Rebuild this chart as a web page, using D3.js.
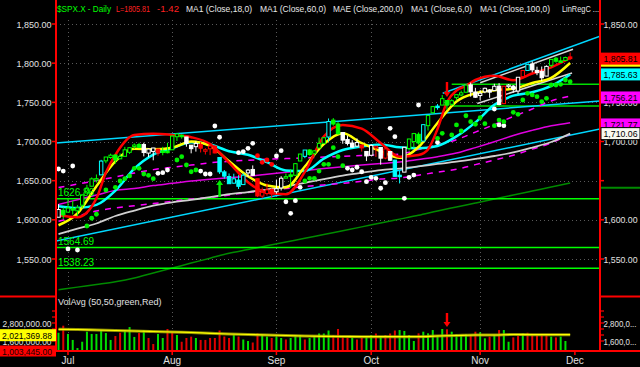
<!DOCTYPE html>
<html><head><meta charset="utf-8">
<script src="https://cdn.jsdelivr.net/npm/d3@7"></script>
<style>
body{margin:0;background:#000;}
svg{display:block;}
text{font-family:"Liberation Sans",Arial,sans-serif;}
</style></head>
<body><svg id="c" width="640" height="367"></svg>
<script>
// ---------------- DATA ----------------
const open = [1603.3,1612.1,
 1609.8,1614.3,1611.5,1618.7,1634.2,1642.9,1652.5,1657.4,1675.3,1679.6,1682.7,1677.9,1681.1,1686.2,1694.4,1696.1,1696.1,1685.2,1687.3,1690.3,1687.9,1687.8,
 1689.4,1706.1,1708.0,1705.8,1695.3,1693.4,1696.1,1688.4,1690.7,1693.9,1679.6,1661.2,1655.3,1646.8,1650.7,1645.0,1659.9,1664.3,1652.5,1630.3,1633.5,1638.9,
 1635.9,1640.7,1653.3,1657.4,1656.9,1675.1,1681.0,1689.2,1685.0,1691.7,1697.7,1705.7,1727.3,1722.4,1711.4,1702.6,1698.0,1694.1,1695.5,1687.3,
 1682.4,1691.9,1692.4,1678.8,1687.2,1676.2,1657.0,1660.9,1691.1,1699.9,1709.2,1700.5,1720.2,1736.7,1745.2,1746.5,1752.3,1747.5,1756.0,1759.4,1762.9,1772.3,1763.2,
 1758.7,1763.4,1765.7,1765.0,1770.7,1748.4,1770.0,1769.5,1764.4,1782.8,1790.7,1798.8,1790.8,1789.6,1783.5,1797.2,1806.3,1802.9,1803.5,1808.0];
const high = [1620.1,1615.9,
 1626.6,1624.3,1618.9,1632.1,1644.7,1654.2,1657.9,1676.6,1680.2,1684.5,1683.7,1684.8,1693.1,1692.1,1697.6,1698.4,1698.4,1690.9,1691.9,1690.9,1693.2,1698.4,
 1707.9,1709.7,1709.2,1705.8,1695.3,1700.2,1699.4,1691.5,1696.8,1695.5,1679.6,1663.6,1659.2,1658.9,1657.0,1659.6,1664.9,1669.5,1652.5,1641.2,1646.4,1640.1,
 1651.4,1655.7,1659.2,1664.8,1672.4,1684.1,1689.1,1690.0,1688.7,1705.0,1705.5,1729.4,1729.9,1725.2,1711.4,1707.6,1701.7,1703.9,1695.5,1687.3,
 1696.6,1693.9,1692.4,1691.9,1687.2,1676.8,1662.5,1692.6,1703.4,1711.0,1711.6,1721.8,1733.4,1745.3,1747.8,1759.3,1752.3,1753.9,1759.8,1765.0,1772.1,1775.2,1768.5,
 1765.7,1768.8,1767.0,1773.7,1774.5,1770.8,1773.4,1771.8,1782.0,1791.0,1798.2,1802.3,1795.5,1795.7,1797.2,1804.8,1808.1,1808.4,1808.3,1813.6];
const low = [1603.3,1601.1,
 1609.8,1606.8,1604.6,1614.7,1634.2,1642.9,1647.7,1657.4,1672.3,1677.9,1671.8,1677.9,1681.1,1684.1,1690.7,1691.5,1681.0,1680.1,1676.0,1681.9,1682.4,1684.9,
 1689.4,1700.7,1703.6,1693.3,1684.9,1687.1,1686.0,1683.4,1682.6,1684.8,1658.6,1652.6,1646.1,1646.1,1639.4,1645.0,1654.8,1656.0,1629.1,1627.5,1630.9,1628.1,
 1633.4,1637.4,1653.1,1640.6,1656.9,1675.1,1678.7,1682.0,1682.2,1691.7,1697.7,1700.2,1720.2,1708.9,1697.1,1694.9,1691.9,1693.1,1687.1,1675.0,
 1682.1,1680.3,1670.4,1677.3,1675.0,1655.0,1646.5,1660.9,1688.5,1692.1,1695.9,1700.5,1714.1,1735.7,1740.6,1746.5,1740.5,1745.5,1752.5,1757.7,1762.9,1757.2,1755.7,
 1752.7,1761.6,1755.8,1764.4,1746.2,1747.6,1767.8,1762.3,1760.6,1780.2,1790.7,1788.4,1784.7,1777.2,1783.5,1794.7,1800.6,1800.8,1802.6,1804.0];
const close = [1613.2,1606.3,
 1615.0,1614.1,1615.4,1631.9,1640.5,1652.3,1652.6,1675.0,1680.2,1682.5,1676.3,1680.9,1689.4,1692.1,1695.5,1692.4,1685.9,1690.3,1691.7,1685.3,1686.0,1685.7,
 1706.9,1709.7,1707.1,1697.4,1690.9,1697.5,1691.4,1689.5,1694.2,1685.4,1661.3,1655.8,1646.1,1652.4,1642.8,1657.0,1663.5,1656.8,1630.5,1635.0,1638.2,1633.0,
 1639.8,1653.1,1655.1,1655.2,1671.7,1684.0,1689.1,1683.4,1688.0,1697.6,1704.8,1725.5,1722.3,1709.9,1701.8,1697.4,1692.8,1698.7,1691.8,1681.6,
 1695.0,1693.9,1678.7,1690.5,1676.1,1655.5,1656.4,1692.6,1703.2,1710.1,1698.1,1721.5,1733.2,1744.5,1744.7,1754.7,1746.4,1752.1,1759.8,1762.1,1772.0,1763.3,1756.5,
 1761.6,1767.9,1763.0,1770.5,1747.2,1770.6,1771.9,1767.7,1782.0,1790.6,1798.2,1791.5,1787.9,1781.4,1795.9,1804.8,1802.5,1802.8,1807.2,1805.8];
// candle colour codes (w white, g green, r red, c cyan)
const candleColor = "wggggggggcgggggggg" + "wwwrgggggwwwrrrrccccccwwrrrrwwggggcggggcggwwwwrwwrwrwccwgggcggcggggggwwwwwwwrwwwrcwwwwggggr";

const volume = [2.15,2.62,2.07,1.67,1.13,1.55,2.22,2.07,2.07,2.33,2.13,1.67,1.93,2.15,2.33,2.53,1.87,2.13,2.33,1.80,1.40,2.07,1.80,2.40,2.22,2.00,1.55,1.80,1.89,1.80,1.67,1.67,1.80,
 1.8,2.3,1.9,1.8,2.0,1.9,1.7,1.6,1.5,2.1,2.0,1.9,1.8,1.9,1.8,1.7,1.8,2.0,2.0,1.7,1.8,1.9,2.1,2.1,2.3,2.0,2.4,1.9,1.8,1.8,1.7,1.8,1.9,2.0,2.1,1.9,2.0,2.1,2.3,
 2.33,2.27,2.0,1.6,2.11,2.22,2.11,2.33,2.0,2.4,2.38,2.22,2.07,2.0,2.07,2.0,2.22,2.18,1.78,1.89,2.0,2.33,2.33,1.55,1.84,1.93,2.11,2.15,2.07,2.0,2.0,2.0,1.89,1.84,1.89,1.6,1.0];
const volumeColor = "grggggggggggrrgggrgrrggrrgrrrgrrr" + "rrrrgrggrrggrggrgggrgggggrrrrgrrggrgrrr" + "ggggrgggggrggggrrggrgrggrrgrrrrrgrggr";

const sampleIdx = [0,4,8,12,16,20,24,28,32,36,40,44,48,52,56,60,64,68,72,76,80,84,88,92,96,100,104,108];
const redIdx = [0,4,8,10,12,16,20,24,28,32,36,40,44,48,52,56,60,64,68,72,76,78,80,82,84,86,88,92,96,100,104,108];
const redLine = [1605.8,1603.4,1627.4,1660.4,1683.0,1708.3,1709.8,1708.3,1705.5,1696.8,1673.1,1648.0,1634.8,1632.6,1661.2,1706.4,1721.1,1716.5,1698.1,1680.5,1682.8,1690.0,1716.0,1750.4,1765.1,1770.9,1778.5,1783.9,1778.3,1786.8,1794.7,1806.6];
const ma6 = [1593.1,1608.2,1642.8,1674.5,1690.7,1690.0,1692.1,1700.1,1694.3,1674.8,1655.6,1643.8,1641.3,1668.1,1696.8,1710.5,1697.8,1687.6,1679.1,1693.0,1723.7,1751.1,1761.5,1765.5,1767.3,1774.7,1781.2,1800.2];
const ma18 = [1617.4,1615.1,1619.1,1637.3,1665.3,1683.3,1691.3,1699.0,1696.2,1687.6,1683.0,1673.7,1663.1,1662.3,1678.2,1689.1,1693.6,1696.3,1692.6,1691.4,1694.3,1706.5,1724.4,1746.9,1758.5,1762.9,1771.0,1785.6];
const ma60 = [1619.7,1625.7,1631.7,1637.6,1640.0,1643.7,1646.6,1649.6,1651.9,1653.8,1655.7,1658.1,1660.6,1663.0,1665.4,1667.8,1669.9,1671.8,1673.8,1677.1,1680.6,1685.2,1692.2,1699.7,1707.7,1714.2,1720.0,1724.0];
const maeUpper = [1641.3,1645.6,1650.1,1654.7,1659.7,1664.1,1667.1,1669.9,1672.8,1674.7,1676.1,1677.3,1678.2,1679.2,1680.1,1681.1,1682.1,1683.0,1684.0,1689.7,1695.5,1702.3,1712.0,1721.7,1731.9,1741.5,1751.8,1758.1];
const maeLower = [1598.1,1604.8,1611.3,1615.1,1618.0,1620.7,1623.7,1626.5,1628.6,1631.6,1635.0,1637.7,1639.9,1642.7,1644.6,1646.5,1649.2,1652.1,1653.4,1657.0,1660.8,1664.6,1670.5,1676.3,1682.5,1690.3,1698.1,1709.6];
const ma100 = [1581.9,1588.7,1595.3,1604.9,1611.8,1618.0,1622.3,1625.4,1629.0,1632.9,1635.5,1638.7,1642.4,1647.3,1652.1,1656.5,1660.0,1663.4,1665.5,1668.2,1671.3,1674.2,1677.7,1681.5,1686.0,1692.3,1699.4,1710.1];
const ma200 = [1510.7,1514.1,1517.4,1520.9,1525.7,1532.1,1538.4,1544.8,1551.0,1557.4,1562.0,1566.9,1571.7,1576.4,1581.3,1586.1,1591.0,1596.0,1600.9,1605.8,1611.3,1616.4,1621.5,1626.6,1631.7,1636.8,1641.9,1647.0];
const volAvg = [2.38,2.367,2.333,2.3,2.267,2.233,2.2,2.167,2.113,2.067,2.033,2.0,1.967,1.933,1.913,1.9,1.887,1.887,1.887,1.887,1.933,1.967,2.0,2.0,2.033,2.02,2.02,2.021];

// regression channel lines: [startIdx, startPrice, endIdx, endPrice]
const linRegCyan = [[-0.53,1698.1,114.3,1751.7],[-0.53,1573.0,114.3,1716.0],[81.1,1761.5,114.3,1834.3]];
const linRegWhite = [[89.0,1774.9,108.6,1817.8],[88.4,1748.5,108.4,1787.4]];
// horizontal levels
const levelsFull = [1626.86,1564.69,1538.23];
const levelsLabel = ["1626.86","1564.69","1538.23"];
const levelsShort = [1773.0,1745.3];
const levelsShortStart = 83;

const whiteDotIdx = [0,1,2,3,4,21,22,23,30,31,32,33,34,38,39,40,41,46,47,48,49,50,51,61,62,63,64,65,66,67,68,69,70,71,73,74,75,76,80,92,93,94,96];
const whiteDotVal = [1664.9,1662.3,1562.8,1668.7,1561.5,1659.4,1660.2,1663.6,1662.3,1658.5,1658.5,1719.8,1705.4,1685.7,1687.0,1691.3,1697.7,1681.5,1688.3,1623.1,1608.3,1624.4,1641.5,1665.8,1663.6,1667.1,1661.4,1648.7,1654.3,1653.0,1640.3,1647.4,1716.8,1706.1,1627.5,1654.3,1657.2,1746.6,1698.7,1741.5,1721.1,1720.2,1768.7];
const greenDotIdx = [6,7,8,10,12,13,14,15,16,17,18,19,20,25,26,27,28,29,52,53,54,55,56,57,58,59,60,80,81,83,84,85,86,87,88,89,90,92,93,94,96,97,98,99,100,101,102,103,104,105,106,107,108];
const greenDotVal = [1592.1,1602.0,1607.1,1638.1,1641.5,1649.6,1652.5,1656.0,1665.8,1665.8,1658.5,1656.8,1652.5,1676.4,1680.6,1670.0,1661.4,1663.6,1649.6,1653.0,1653.0,1662.3,1670.9,1670.9,1692.1,1680.6,1669.1,1704.1,1710.5,1708.3,1721.1,1713.4,1732.9,1725.3,1722.0,1730.4,1722.7,1720.2,1727.4,1725.3,1737.3,1734.7,1753.0,1761.5,1759.4,1757.2,1750.8,1755.1,1772.1,1772.1,1773.0,1778.5,1776.3];
const redDotIdx = [42,43,44,45];
const redDotVal = [1681.9,1673.4,1676.4,1670.9];
const upArrow = [34, 1650.9];
const downArrow = [82, 1756.8];

const priceTicks = [1550,1600,1650,1700,1750,1800,1850];
const rightHidden = [1650, 1800];      // labels covered on the right axis
const monthLabels = ["Jul","Aug","Sep","Oct","Nov","Dec"];
const monthIdx = [2,24,46,66,89,109];
const volTicks = [2.8,1.6];
const lastValues = {ma6:1803.15, last:1805.81, ma18:1785.63, maeUp:1756.21, ma60:1721.77, ma100:1710.06, ma200:1641.0};
const volLast = 2.02136988, volMin = 1.003445;

// ---------------- DRAW ----------------
const svg = d3.select("#c");
const L = 56, R = 600, VB = 351;
const x = d3.scaleLinear().domain([-0.53, 114.3]).range([L, R]);
const y = d3.scaleLinear().domain([1550, 1850]).range([259, 24]);
const yv = d3.scaleLinear().domain([1.6, 2.8]).range([341, 323]);
const fmt2 = d3.format(",.2f");
const colorMap = {g:"#00ff00", r:"#ff0000", c:"#00ffff", w:"#ffffff"};

svg.append("rect").attr("width",640).attr("height",367).attr("fill","#000");
const defs = svg.append("defs");
defs.append("clipPath").attr("id","mainClip").append("rect").attr("x",L).attr("y",0).attr("width",R-L).attr("height",297);
defs.append("clipPath").attr("id","volClip").append("rect").attr("x",L).attr("y",297).attr("width",R-L).attr("height",VB-297);

const grid = svg.append("g").attr("stroke","#5a5a5a").attr("stroke-dasharray","1,3");
priceTicks.forEach(p => grid.append("line").attr("x1",L).attr("x2",R).attr("y1",Math.round(y(p))+0.5).attr("y2",Math.round(y(p))+0.5));
monthIdx.slice(0,5).forEach(i => grid.append("line").attr("x1",Math.round(x(i))+0.5).attr("x2",Math.round(x(i))+0.5).attr("y1",20).attr("y2",VB));

const main = svg.append("g").attr("clip-path","url(#mainClip)");
const lineGen = (idx) => d3.line().x((d,k)=>x(idx[k])).y(d=>y(d)).curve(d3.curveMonotoneX);

main.append("path").attr("d", lineGen(sampleIdx)(ma200)).attr("fill","none").attr("stroke","#008a00").attr("stroke-width",1.5);
levelsFull.forEach(p => main.append("line").attr("x1",L).attr("x2",R).attr("y1",y(p)).attr("y2",y(p)).attr("stroke","#00ff00").attr("stroke-width",1.5));
levelsShort.forEach(p => main.append("line").attr("x1",x(levelsShortStart)).attr("x2",R).attr("y1",y(p)).attr("y2",y(p)).attr("stroke","#00dd00").attr("stroke-width",1.5));
linRegCyan.forEach(s => main.append("line").attr("x1",x(s[0])).attr("y1",y(s[1])).attr("x2",x(s[2])).attr("y2",y(s[3])).attr("stroke","#00d8ff").attr("stroke-width",1.5));
linRegWhite.forEach(s => main.append("line").attr("x1",x(s[0])).attr("y1",y(s[1])).attr("x2",x(s[2])).attr("y2",y(s[3])).attr("stroke","#d8d8d8").attr("stroke-width",1.5));
main.append("path").attr("d", lineGen(sampleIdx)(maeUpper)).attr("fill","none").attr("stroke","#ff00ff").attr("stroke-width",1.5).attr("stroke-dasharray","6,6");
main.append("path").attr("d", lineGen(sampleIdx)(maeLower)).attr("fill","none").attr("stroke","#ff00ff").attr("stroke-width",1.5).attr("stroke-dasharray","6,6");
main.append("path").attr("d", lineGen(sampleIdx)(ma60)).attr("fill","none").attr("stroke","#e000e0").attr("stroke-width",1.5);
main.append("path").attr("d", lineGen(sampleIdx)(ma100)).attr("fill","none").attr("stroke","#d0d0d0").attr("stroke-width",1.8);
main.append("path").attr("d", lineGen(sampleIdx)(ma18)).attr("fill","none").attr("stroke","#00ffff").attr("stroke-width",2.5);
main.append("path").attr("d", lineGen(sampleIdx)(ma6)).attr("fill","none").attr("stroke","#ffff00").attr("stroke-width",2.5);
main.append("path").attr("d", lineGen(redIdx)(redLine)).attr("fill","none").attr("stroke","#ff0000").attr("stroke-width",2.5);

const cg = main.append("g");
close.forEach((c,i) => {
  const o = open[i], col = colorMap[candleColor[i]], cx = x(i);
  cg.append("line").attr("x1",cx).attr("x2",cx).attr("y1",y(high[i])).attr("y2",y(low[i])).attr("stroke",col).attr("stroke-width",1);
  const top = y(Math.max(o,c)), h = Math.max(1.5, Math.abs(y(o)-y(c)));
  cg.append("rect").attr("x",cx-1.7).attr("width",3.4).attr("y",top).attr("height",h)
    .attr("fill", c>=o ? "#000" : col).attr("stroke",col).attr("stroke-width",1);
});

const dg = main.append("g");
whiteDotIdx.forEach((i,k)=> dg.append("circle").attr("cx",x(i)).attr("cy",y(whiteDotVal[k])).attr("r",2.4).attr("fill","#ffffff"));
greenDotIdx.forEach((i,k)=> dg.append("circle").attr("cx",x(i)).attr("cy",y(greenDotVal[k])).attr("r",2.4).attr("fill","#00ee00"));
redDotIdx.forEach((i,k)=> dg.append("circle").attr("cx",x(i)).attr("cy",y(redDotVal[k])).attr("r",2.4).attr("fill","#ff0000"));

function arrow(g, cx, headY, dir, len, col){
  const tail = headY + dir*len;
  const y0 = Math.min(headY + dir*4, tail), y1 = Math.max(headY + dir*4, tail);
  g.append("rect").attr("x",cx-1.2).attr("width",2.4).attr("y",y0).attr("height",y1-y0).attr("fill",col);
  g.append("path").attr("d",`M${cx-3.5},${headY+dir*5}L${cx+3.5},${headY+dir*5}L${cx},${headY}Z`).attr("fill",col);
}
arrow(main, x(upArrow[0]), y(upArrow[1]), 1, 17, "#00ee00");
arrow(main, x(downArrow[0]), y(downArrow[1]), -1, 15, "#ff0000");

levelsFull.forEach((p,k)=> svg.append("text").attr("x",58).attr("y",y(p)-2.5).attr("fill","#00ff00").attr("font-size",10).text(levelsLabel[k]));

// ---------------- VOLUME ----------------
const vg = svg.append("g").attr("clip-path","url(#volClip)");
volume.forEach((v,i)=>{
  vg.append("rect").attr("x",x(i)-1).attr("width",2).attr("y",yv(v)).attr("height",VB-yv(v))
    .attr("fill", volumeColor[i]==="g" ? "#00e000" : "#e00000");
});
const vLine = d3.line().x((d,k)=>x(sampleIdx[k])).y(d=>yv(d)).curve(d3.curveMonotoneX);
vg.append("path").attr("d", vLine(volAvg)).attr("fill","none").attr("stroke","#a8a800").attr("stroke-width",3).attr("opacity",0.85);
vg.append("path").attr("d", vLine(volAvg)).attr("fill","none").attr("stroke","#ffff00").attr("stroke-width",1.2);
arrow(vg, x(downArrow[0]), 327, -1, 14, "#ff0000");
svg.append("text").attr("x",58).attr("y",305).attr("fill","#e0e0e0").attr("font-size",9).text("VolAvg (50,50,green,Red)");

// ---------------- AXES ----------------
const red = "#ff0000";
svg.append("line").attr("x1",L).attr("x2",L).attr("y1",0).attr("y2",VB).attr("stroke",red).attr("stroke-width",2);
svg.append("line").attr("x1",R).attr("x2",R).attr("y1",0).attr("y2",VB).attr("stroke",red).attr("stroke-width",2);
svg.append("line").attr("x1",0).attr("x2",640).attr("y1",VB).attr("y2",VB).attr("stroke",red).attr("stroke-width",2);
svg.append("line").attr("x1",0).attr("x2",L).attr("y1",296.5).attr("y2",296.5).attr("stroke",red).attr("stroke-width",2);
svg.append("line").attr("x1",R).attr("x2",640).attr("y1",296.5).attr("y2",296.5).attr("stroke",red).attr("stroke-width",2);

priceTicks.forEach(p=>{
  svg.append("line").attr("x1",52).attr("x2",L).attr("y1",y(p)).attr("y2",y(p)).attr("stroke",red).attr("stroke-width",1.5);
  svg.append("text").attr("x",51.5).attr("y",y(p)+3.5).attr("text-anchor","end").attr("fill","#e0e0e0").attr("font-size",9.5)
    .attr("textLength",35).attr("lengthAdjust","spacingAndGlyphs").text(fmt2(p));
  svg.append("line").attr("x1",R).attr("x2",604).attr("y1",y(p)).attr("y2",y(p)).attr("stroke",red).attr("stroke-width",1.5);
  if (!rightHidden.includes(p)) svg.append("text").attr("x",603.5).attr("y",y(p)+3.5).attr("fill","#e0e0e0").attr("font-size",9.5)
    .attr("textLength",34).attr("lengthAdjust","spacingAndGlyphs").text(fmt2(p));
});
function box(val, fill, txt, stroke){
  const cy = y(val);
  const r = svg.append("rect").attr("x",601).attr("y",cy-6).attr("width",39).attr("height",12).attr("fill",fill);
  if (stroke) r.attr("stroke",stroke).attr("stroke-width",1);
  if (txt) svg.append("text").attr("x",603.5).attr("y",cy+3.5).attr("fill","#000").attr("font-size",9.5)
    .attr("textLength",34).attr("lengthAdjust","spacingAndGlyphs").text(txt);
}
svg.append("line").attr("x1",601).attr("x2",640).attr("y1",y(lastValues.ma200)).attr("y2",y(lastValues.ma200)).attr("stroke","#008a00").attr("stroke-width",2);
box(lastValues.ma6, "#ffff00", null);
box(lastValues.last, "#ff0000", fmt2(lastValues.last));
box(lastValues.ma18, "#00ffff", fmt2(lastValues.ma18));
box(lastValues.maeUp, "#ff00ff", fmt2(lastValues.maeUp));
box(lastValues.ma60, "#ff00ff", fmt2(lastValues.ma60));
box(lastValues.ma100, "#f8f8f0", fmt2(lastValues.ma100), "#000");

[1.6,2.0,2.4,2.8,3.2,3.6].forEach(v=>{
  svg.append("line").attr("x1",52).attr("x2",L).attr("y1",yv(v)).attr("y2",yv(v)).attr("stroke",red).attr("stroke-width",1.2);
  svg.append("line").attr("x1",R).attr("x2",604).attr("y1",yv(v)).attr("y2",yv(v)).attr("stroke",red).attr("stroke-width",1.2);
});
volTicks.forEach(v=>{
  svg.append("text").attr("x",51.5).attr("y",yv(v)+3.5).attr("text-anchor","end").attr("fill","#e0e0e0").attr("font-size",9.5)
    .attr("textLength",49).attr("lengthAdjust","spacingAndGlyphs").text(fmt2(v*1e6));
  svg.append("text").attr("x",603.5).attr("y",yv(v)+3.5).attr("fill","#e0e0e0").attr("font-size",9)
    .attr("textLength",33).attr("lengthAdjust","spacingAndGlyphs").text(fmt2(v*1e6).slice(0,7)+"...");
});
svg.append("rect").attr("x",0).attr("y",yv(volLast)-5.5).attr("width",56).attr("height",12).attr("fill","#ffff00");
svg.append("text").attr("x",2).attr("y",yv(volLast)+4).attr("fill","#000").attr("font-size",9.5)
  .attr("textLength",50).attr("lengthAdjust","spacingAndGlyphs").text(fmt2(volLast*1e6));
svg.append("rect").attr("x",0).attr("y",345.5).attr("width",56).attr("height",11).attr("fill","#ff0000");
svg.append("text").attr("x",2).attr("y",354.5).attr("fill","#200000").attr("font-size",9.5)
  .attr("textLength",50).attr("lengthAdjust","spacingAndGlyphs").text(fmt2(volMin*1e6));

monthIdx.forEach((i,k)=>{
  svg.append("line").attr("x1",x(i)).attr("x2",x(i)).attr("y1",VB).attr("y2",VB+4).attr("stroke",red).attr("stroke-width",1.5);
  svg.append("text").attr("x",x(i)).attr("y",364).attr("text-anchor","middle").attr("fill","#e0e0e0").attr("font-size",10).text(monthLabels[k]);
});

const header = [
  {t:"$SPX.X - Daily", x:57, w:54, c:"#00ff00"},
  {t:"L=1805.81", x:116, w:34, c:"#ff2020"},
  {t:"-1.42", x:157, w:22, c:"#ff2020"},
  {t:"MA1 (Close,18,0)", x:186, w:66, c:"#e8e8e8"},
  {t:"MA1 (Close,60,0)", x:260, w:66, c:"#e8e8e8"},
  {t:"MAE (Close,200,0)", x:333, w:70, c:"#e8e8e8"},
  {t:"MA1 (Close,6,0)", x:411, w:61, c:"#e8e8e8"},
  {t:"MA1 (Close,100,0)", x:480, w:70, c:"#e8e8e8"},
  {t:"LinRegC ...", x:562, w:37, c:"#e8e8e8"}
];
header.forEach(h=> svg.append("text").attr("x",h.x).attr("y",12).attr("fill",h.c).attr("font-size",9.5)
  .attr("textLength",h.w).attr("lengthAdjust","spacingAndGlyphs").text(h.t));
</script></body></html>
